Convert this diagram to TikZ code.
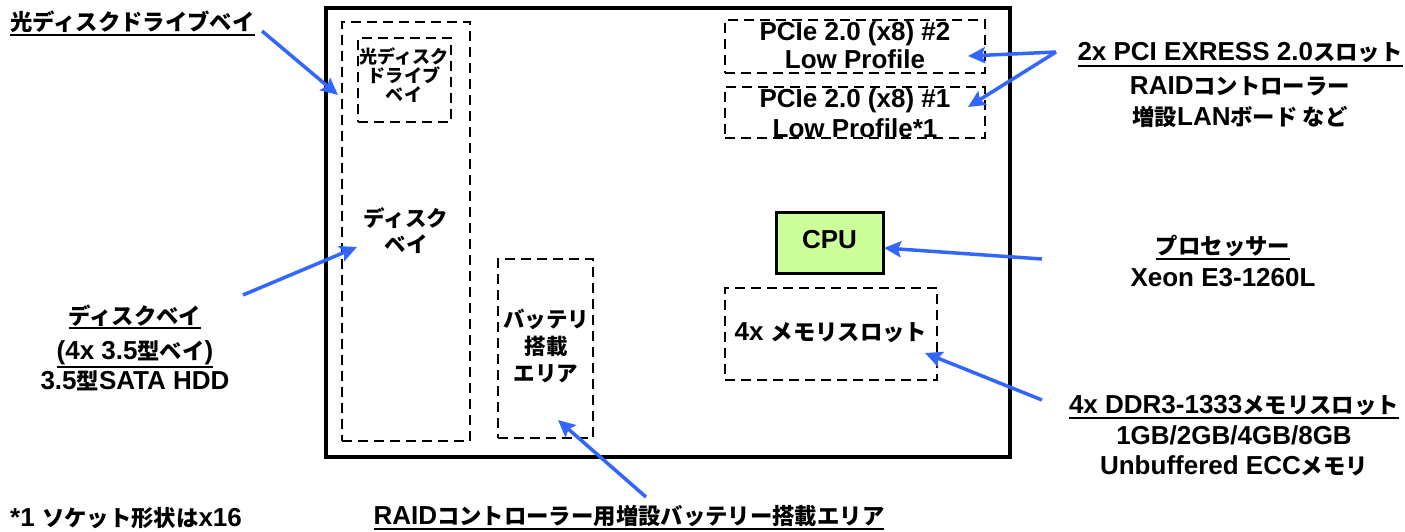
\documentclass[tikz,border=0pt]{standalone}
\usepackage{fontspec}
\setmainfont{Liberation Sans}
\newfontfamily\jpf{Noto Sans CJK JP}[Scale=0.86]
\usetikzlibrary{arrows.meta}
\definecolor{arrowblue}{RGB}{51,102,255}
\definecolor{cpugreen}{RGB}{204,255,153}
\newcommand\J[1]{{\jpf #1}}
\newcommand\ulx[1]{\leavevmode\vtop{\hbox{#1}\kern1.2pt\hrule height 2pt}}
\begin{document}
\begin{tikzpicture}[x=1pt,y=-1pt,
  font=\bfseries\fontsize{26}{30}\selectfont,
  dbox/.style={draw, line width=2.5pt, dash pattern=on 10pt off 6pt, inner sep=0pt},
  frame/.style={draw, line width=3.5pt, inner sep=0pt},
  cpubox/.style={draw, line width=3pt, fill=cpugreen, inner sep=0pt},
  lbl/.style={align=center, inner sep=0pt},
  arr/.style={draw=arrowblue, line width=3.5pt, -{Stealth[length=17pt,width=16pt,inset=3pt]}},
]
\useasboundingbox (0,0) rectangle (1405,532);
% main frame and inner areas
\node[frame, minimum width=684pt, minimum height=449pt] (main) at (668,232.5) {};
\node[dbox, minimum width=128pt, minimum height=419pt] (diskbay) at (406,231.5) {};
\node[dbox, minimum width=93pt, minimum height=84pt] (optbay) at (404.5,80) {};
\node[lbl, font=\bfseries\fontsize{21}{19}\selectfont] (opttxt) at (404,75) {\J{光ディスク}\\\J{ドライブ}\\\J{ベイ}};
\node[lbl, font=\bfseries\fontsize{25}{26}\selectfont] (disktxt) at (406,231) {\J{ディスク}\\\J{ベイ}};
\node[dbox, minimum width=95pt, minimum height=179pt] (batt) at (545.5,348.5) {};
\node[lbl, font=\bfseries\fontsize{25}{27}\selectfont] (batttxt) at (546,346) {\J{バッテリ}\\\J{搭載}\\\J{エリア}};
\node[dbox, minimum width=260pt, minimum height=53pt] (pcie2) at (855,46.5) {};
\node[lbl, font=\bfseries\fontsize{26}{28}\selectfont] (pcie2txt) at (855,45) {PCIe 2.0 (x8) \#2\\Low Profile};
\node[dbox, minimum width=260pt, minimum height=51pt] (pcie1) at (855,112.5) {};
\node[lbl, font=\bfseries\fontsize{26}{30}\selectfont] (pcie1txt) at (855,113) {PCIe 2.0 (x8) \#1\\Low Profile*1};
\node[cpubox, minimum width=107pt, minimum height=61pt] (cpu) at (829.5,242.5) {};
\node[lbl] (cputxt) at (829.5,240) {CPU};
\node[dbox, minimum width=212pt, minimum height=92pt] (mem) at (831,334) {};
\node[lbl] (memtxt) at (831,333) {4x \J{メモリスロット}};
% outside labels (base anchor = baseline of the last line)
\node[lbl, anchor=base west] (optlbl) at (10,31) {\ulx{\J{光ディスクドライブベイ}}};
\node[lbl, anchor=base] (pcilbl) at (1240,125) {\ulx{2x PCI EXRESS 2.0\J{スロット}}\\[4pt]RAID\J{コントローラー}\\\J{増設}LAN\J{ボード など}};
\node[lbl, anchor=base] (cpulbl) at (1223,286) {\ulx{\J{プロセッサー}}\\[2pt]Xeon E3-1260L};
\node[lbl, anchor=base] (disklbl) at (135,389) {\ulx{\J{ディスクベイ}}\\[5pt]\ulx{(4x 3.5\J{型ベイ})}\\3.5\J{型}SATA HDD};
\node[lbl, anchor=base] (ddrlbl) at (1234,474) {\ulx{4x DDR3-1333\J{メモリスロット}}\\[1pt]1GB/2GB/4GB/8GB\\Unbuffered ECC\J{メモリ}};
\node[lbl, anchor=base west] (note) at (10,526) {*1 \J{ソケット形状は}x16};
\node[lbl, anchor=base] (battlbl) at (629,524) {\ulx{RAID\J{コントローラー用増設バッテリー搭載エリア}}};
% arrow end points
\coordinate (a1s) at (262,31);   \coordinate (a1e) at (338,95);
\coordinate (a2s) at (243,295);  \coordinate (a2e) at (357,247);
\coordinate (a3s) at (1056,52);  \coordinate (a3e) at (968,56);
\coordinate (a4e) at (968,107);
\coordinate (a5s) at (1042,259); \coordinate (a5e) at (884,248);
\coordinate (a6s) at (1042,400); \coordinate (a6e) at (925,353);
\coordinate (a7s) at (646,497);  \coordinate (a7e) at (558,420);
\draw[arr] (a1s) -- (a1e);
\draw[arr] (a2s) -- (a2e);
\draw[arr] (a3s) -- (a3e);
\draw[arr] (a3s) -- (a4e);
\draw[arr] (a5s) -- (a5e);
\draw[arr] (a6s) -- (a6e);
\draw[arr] (a7s) -- (a7e);
\end{tikzpicture}
\end{document}
